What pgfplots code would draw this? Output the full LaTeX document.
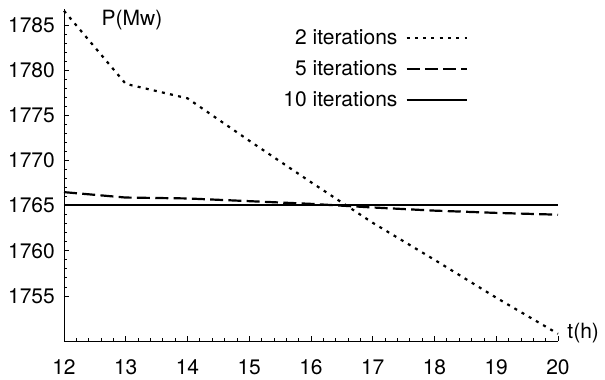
\documentclass[border=0pt]{standalone}
\usepackage{fontspec}
\setmainfont{TeX Gyre Heros}
\usepackage{pgfplots}
\pgfplotsset{compat=1.18}
\begin{document}
\fontsize{21}{25}\selectfont
\begin{tikzpicture}
\begin{axis}[
  scale only axis,
  width=494pt, height=332pt,
  xmin=12, xmax=20, ymin=1750, ymax=1786.8,
  axis lines=left,
  axis line style={-, line width=0.9pt},
  xtick={12,13,...,20},
  ytick={1755,1760,...,1785},
  minor x tick num=4,
  minor y tick num=4,
  tick align=inside,
  major tick length=5pt,
  minor tick length=3pt,
  tick style={black, line width=0.7pt},
  /pgf/number format/assume math mode=true,
  /pgf/number format/1000 sep={},
  xticklabel style={anchor=north, yshift=-11pt},
  yticklabel style={xshift=-2pt},
  clip=false,
  legend cell align=right,
  legend plot pos=right,
  legend image code/.code={\draw[#1] (0pt,0pt) -- (60pt,0pt);},
  legend style={at={(axis cs:18.54,1784.8)}, anchor=north east, draw=none, fill=none,
    inner sep=0pt, row sep=9pt, font=\fontsize{21}{25}\selectfont,
    /tikz/every odd column/.append style={column sep=6pt}},
]
\addplot[black, line width=2.2pt, dash pattern=on 3pt off 5.3pt] coordinates {
 (12,1786.6) (13,1778.5) (14,1776.9) (15,1772.2) (16,1767.6) (17,1763.1) (18,1759.0) (19,1754.8) (20,1750.8)};
\addlegendentry{2 iterations}
\addplot[black, line width=2.2pt, dash pattern=on 13pt off 5.3pt] coordinates {
 (12,1766.5) (13,1765.9) (14,1765.8) (15,1765.5) (16,1765.2) (17,1764.8) (18,1764.45) (19,1764.2) (20,1764.0)};
\addlegendentry{5 iterations}
\addplot[black, line width=2.2pt] coordinates {
 (12,1765.1) (13,1765.1) (14,1765.1) (15,1765.1) (16,1765.1) (17,1765.1) (18,1765.1) (19,1765.1) (20,1765.1)};
\addlegendentry{10 iterations}
\node[anchor=center] at (axis cs:13.1,1785.6) {P(Mw)};
\node[anchor=west, inner sep=0pt] at (axis cs:20.15,1750.9) {t(h)};
\end{axis}
\pgfresetboundingbox
\useasboundingbox ([shift={(-64pt,-39pt)}]current axis.south west) rectangle ++(605pt,380pt);
\end{tikzpicture}
\end{document}
